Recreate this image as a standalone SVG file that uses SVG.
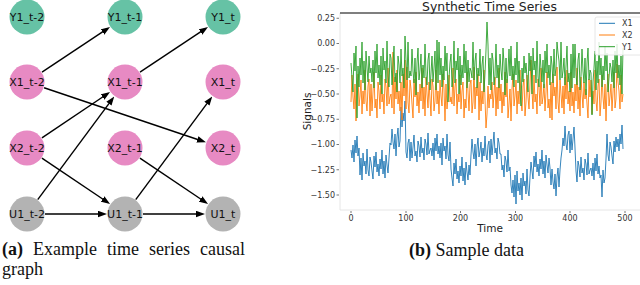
<svg xmlns="http://www.w3.org/2000/svg" width="640" height="285" viewBox="0 0 640 285">
<style>
.lbl{font-family:"DejaVu Sans",Verdana,sans-serif;font-size:11px;text-anchor:middle;fill:#111}
.y{fill:#66c2a5}.x{fill:#e78ac3}.u{fill:#b3b3b3}
.edge{stroke:#000;stroke-width:1.4;fill:none;marker-end:url(#arr)}
.tick{font-family:"DejaVu Sans",Verdana,sans-serif;font-size:8px;fill:#333}
.ax{font-family:"DejaVu Sans",Verdana,sans-serif;fill:#222}
.cap{font-family:"Liberation Serif","Times New Roman",serif;fill:#111}
.ser{fill:none;stroke-width:0.9;stroke-linejoin:round}
</style>
<defs>
<marker id="arr" markerUnits="userSpaceOnUse" markerWidth="9" markerHeight="7" refX="5" refY="3.25" orient="auto" viewBox="0 0 9 6.5">
<path d="M0,0 L9,3.25 L0,6.5 z" fill="#000"/>
</marker>
</defs>
<g id="connectors">
<path class="edge" d="M42,72.05 L106.67,29.16"/>
<path class="edge" d="M140,72.05 L204.67,29.16"/>
<path class="edge" d="M44.06,87.74 L202.15,140.98"/>
<path class="edge" d="M41.93,137.95 L106.75,94.28"/>
<path class="edge" d="M37.73,199.55 L111.89,99.66"/>
<path class="edge" d="M135.73,199.55 L209.89,99.66"/>
<path class="edge" d="M41.93,158.05 L106.75,201.72"/>
<path class="edge" d="M139.93,158.05 L204.75,201.72"/>
<path class="edge" d="M45,214 L103,214"/>
<path class="edge" d="M143,214 L201,214"/>
</g>
<g id="Y1_t-2"><circle class="y" cx="27" cy="17" r="17.5"/><text class="lbl" x="27" y="21">Y1_t-2</text></g>
<g id="Y1_t-1"><circle class="y" cx="125" cy="17" r="17.5"/><text class="lbl" x="125" y="21">Y1_t-1</text></g>
<g id="Y1_t"><circle class="y" cx="223" cy="17" r="17.5"/><text class="lbl" x="223" y="21">Y1_t</text></g>
<g id="X1_t-2"><circle class="x" cx="27" cy="82" r="17.5"/><text class="lbl" x="27" y="86">X1_t-2</text></g>
<g id="X1_t-1"><circle class="x" cx="125" cy="82" r="17.5"/><text class="lbl" x="125" y="86">X1_t-1</text></g>
<g id="X1_t"><circle class="x" cx="223" cy="82" r="17.5"/><text class="lbl" x="223" y="86">X1_t</text></g>
<g id="X2_t-2"><circle class="x" cx="27" cy="148" r="17.5"/><text class="lbl" x="27" y="152">X2_t-2</text></g>
<g id="X2_t-1"><circle class="x" cx="125" cy="148" r="17.5"/><text class="lbl" x="125" y="152">X2_t-1</text></g>
<g id="X2_t"><circle class="x" cx="223" cy="148" r="17.5"/><text class="lbl" x="223" y="152">X2_t</text></g>
<g id="U1_t-2"><circle class="u" cx="27" cy="214" r="17.5"/><text class="lbl" x="27" y="218">U1_t-2</text></g>
<g id="U1_t-1"><circle class="u" cx="125" cy="214" r="17.5"/><text class="lbl" x="125" y="218">U1_t-1</text></g>
<g id="U1_t"><circle class="u" cx="223" cy="214" r="17.5"/><text class="lbl" x="223" y="218">U1_t</text></g>
<text class="cap" x="2" y="255" font-size="18" style="word-spacing:5.5px"><tspan font-weight="bold">(a)</tspan> Example time series causal</text>
<text class="cap" x="2" y="275" font-size="18">graph</text>
<g id="plot">
<line x1="340" y1="13" x2="340" y2="210" stroke="#e6e6e6" stroke-width="1"/>
<line x1="340" y1="210" x2="640" y2="210" stroke="#e6e6e6" stroke-width="1"/>
<line x1="340" y1="13" x2="640" y2="13" stroke="#555" stroke-width="1.5"/>
<g stroke="#555" stroke-width="0.8">
<line x1="336.5" y1="18.25" x2="339" y2="18.25"/><line x1="336.5" y1="43.5" x2="339" y2="43.5"/><line x1="336.5" y1="68.75" x2="339" y2="68.75"/><line x1="336.5" y1="94" x2="339" y2="94"/><line x1="336.5" y1="119.25" x2="339" y2="119.25"/><line x1="336.5" y1="144.5" x2="339" y2="144.5"/><line x1="336.5" y1="169.75" x2="339" y2="169.75"/><line x1="336.5" y1="195" x2="339" y2="195"/>
<line x1="351" y1="211" x2="351" y2="213"/><line x1="406" y1="211" x2="406" y2="213"/><line x1="460.5" y1="211" x2="460.5" y2="213"/><line x1="515.5" y1="211" x2="515.5" y2="213"/><line x1="570" y1="211" x2="570" y2="213"/><line x1="625" y1="211" x2="625" y2="213"/>
</g>
<g class="tick" text-anchor="end">
<text x="335" y="21.2">0.25</text><text x="335" y="46.4">0.00</text><text x="335" y="71.6">−0.25</text><text x="335" y="96.9">−0.50</text><text x="335" y="122.1">−0.75</text><text x="335" y="147.4">−1.00</text><text x="335" y="172.6">−1.25</text><text x="335" y="197.9">−1.50</text>
</g>
<g class="tick" text-anchor="middle">
<text x="351" y="220.5">0</text><text x="406" y="220.5">100</text><text x="460.5" y="220.5">200</text><text x="515.5" y="220.5">300</text><text x="570" y="220.5">400</text><text x="625" y="220.5">500</text>
</g>
<text class="ax" x="490" y="232" font-size="10.5" text-anchor="middle">Time</text>
<text class="ax" font-size="10.5" text-anchor="middle" transform="translate(311,111.5) rotate(-90)">Signals</text>
<text class="ax" x="489.5" y="10.5" font-size="12.4" text-anchor="middle">Synthetic Time Series</text>
<polyline class="ser" stroke="#1f77b4" points="351,150 352,158 353,145 354,162 355,140 356,153 357,136 358,156 359,148 360,175 361,158 362,180 363,153 364,166 365,161 366,174 367,149 368,170 369,176 370,157 371,162 372,171 373,179 374,156 375,167 376,152 377,172 378,164 379,176 380,159 381,169 382,150 383,174 384,161 385,178 386,155 387,165 388,173 389,158 390,143 391,145 392,129 393,142 394,149 395,134 396,156 397,137 398,128 399,147 400,141 401,107 402,127 403,113 404,121 405,101 406,152 407,158 408,143 409,139 410,161 411,142 412,158 413,147 414,135 415,156 416,151 417,162 418,141 419,146 420,157 421,137 422,153 423,148 424,160 425,139 426,144 427,155 428,133 429,154 430,150 431,148 432,156 433,143 434,160 435,138 436,151 437,134 438,154 439,146 440,158 441,143 442,165 443,138 444,151 445,146 446,159 447,134 448,155 449,161 450,142 451,169 452,178 453,186 454,163 455,174 456,159 457,179 458,171 459,183 460,166 461,176 462,157 463,181 464,168 465,185 466,162 467,172 468,180 469,165 470,175 471,155 472,139 473,152 474,159 475,144 476,166 477,147 478,138 479,157 480,151 481,142 482,162 483,148 484,156 485,136 486,154 487,160 488,145 489,141 490,163 491,139 492,155 493,144 494,132 495,153 496,148 497,159 498,138 499,143 500,154 501,154 502,170 503,165 504,177 505,156 506,161 507,172 508,150 509,171 510,167 511,185 512,193 513,180 514,197 515,175 516,204 517,171 518,191 519,183 520,195 521,178 522,200 523,173 524,186 525,181 526,194 527,169 528,190 529,196 530,177 531,162 532,171 533,179 534,156 535,167 536,152 537,172 538,164 539,176 540,159 541,169 542,150 543,174 544,161 545,178 546,155 547,165 548,173 549,158 550,168 551,185 552,169 553,182 554,189 555,174 556,196 557,177 558,168 559,187 560,170 561,158 562,150 563,138 564,146 565,126 566,144 567,150 568,135 569,131 570,153 571,134 572,150 573,139 574,127 575,148 576,171 577,182 578,161 579,166 580,177 581,157 582,173 583,168 584,180 585,159 586,164 587,175 588,153 589,174 590,170 591,168 592,176 593,163 594,180 595,158 596,171 597,154 598,174 599,166 600,178 601,175 602,197 603,170 604,183 605,178 606,159 607,134 608,155 609,161 610,142 611,147 612,156 613,164 614,141 615,152 616,137 617,147 618,139 619,151 620,134 621,144 622,125 623,149"/>
<polyline class="ser" stroke="#ff7f0e" points="351,102 352,75 353,97 354,109 355,84 356,121 357,89 358,74 359,106 360,96 361,80 362,114 363,91 364,104 365,70 366,101 367,111 368,86 369,79 370,116 371,84 372,111 373,92 374,72 375,108 376,99 377,118 378,82 379,91 380,109 381,75 382,102 383,94 384,114 385,79 386,87 387,106 388,68 389,104 390,97 391,94 392,108 393,52 394,114 395,77 396,99 397,70 398,104 399,91 400,111 401,82 402,120 403,74 404,96 405,60 406,109 407,67 408,102 409,113 410,80 411,89 412,104 413,118 414,79 415,97 416,72 417,106 418,92 419,113 420,84 421,101 422,68 423,109 424,87 425,116 426,77 427,94 428,108 429,82 430,99 431,116 432,79 433,86 434,111 435,101 436,70 437,104 438,91 439,114 440,80 441,96 442,106 443,74 444,89 445,121 446,84 447,109 448,97 449,75 450,102 451,97 452,104 453,68 454,106 455,87 456,79 457,114 458,94 459,102 460,75 461,109 462,91 463,82 464,118 465,99 466,108 467,72 468,92 469,111 470,84 471,80 472,113 473,102 474,67 475,109 476,87 477,96 478,74 479,120 480,82 481,111 482,91 483,104 484,70 485,99 486,128 487,114 488,86 489,108 490,94 491,99 492,82 493,108 494,94 495,77 496,116 497,87 498,109 499,68 500,101 501,84 502,113 503,92 504,106 505,72 506,97 507,79 508,118 509,104 510,89 511,121 512,89 513,74 514,106 515,96 516,80 517,114 518,91 519,104 520,70 521,101 522,111 523,86 524,79 525,116 526,102 527,75 528,97 529,109 530,84 531,60 532,91 533,109 534,75 535,102 536,94 537,114 538,79 539,87 540,106 541,68 542,104 543,97 544,84 545,111 546,92 547,72 548,108 549,99 550,118 551,82 552,120 553,74 554,96 555,87 556,109 557,67 558,102 559,113 560,80 561,94 562,108 563,86 564,114 565,77 566,99 567,70 568,104 569,91 570,111 571,72 572,106 573,92 574,113 575,84 576,101 577,68 578,109 579,87 580,116 581,77 582,94 583,108 584,82 585,99 586,89 587,104 588,118 589,79 590,97 591,80 592,114 593,91 594,104 595,70 596,101 597,111 598,86 599,79 600,116 601,102 602,75 603,97 604,109 605,84 606,121 607,89 608,74 609,106 610,96 611,84 612,111 613,92 614,72 615,108 616,99 617,64 618,82 619,91 620,109 621,75 622,102 623,94"/>
<polyline class="ser" stroke="#2ca02c" points="351,63 352,78 353,92 354,53 355,71 356,46 357,118 358,66 359,87 360,58 361,75 362,42 363,83 364,61 365,90 366,51 367,68 368,82 369,56 370,73 371,68 372,82 373,60 374,88 375,51 376,73 377,44 378,78 379,65 380,85 381,56 382,94 383,48 384,70 385,61 386,83 387,41 388,76 389,87 390,54 391,58 392,85 393,66 394,46 395,82 396,73 397,92 398,56 399,65 400,83 401,49 402,76 403,68 404,88 405,36 406,61 407,80 408,42 409,78 410,71 411,76 412,49 413,71 414,83 415,58 416,95 417,63 418,48 419,80 420,70 421,54 422,88 423,65 424,78 425,44 426,75 427,85 428,60 429,53 430,90 431,73 432,56 433,82 434,68 435,51 436,90 437,40 438,83 439,42 440,75 441,58 442,87 443,66 444,80 445,46 446,71 447,53 448,102 449,78 450,63 451,54 452,87 453,76 454,41 455,83 456,61 457,70 458,48 459,94 460,56 461,85 462,65 463,78 464,44 465,73 466,51 467,88 468,60 469,82 470,68 471,71 472,78 473,42 474,80 475,61 476,53 477,88 478,68 479,76 480,49 481,83 482,65 483,56 484,92 485,73 486,50 487,22 488,45 489,85 490,58 491,90 492,53 493,60 494,85 495,75 496,44 497,78 498,65 499,88 500,54 501,70 502,80 503,48 504,63 505,95 506,58 507,83 508,71 509,49 510,76 511,46 512,80 513,66 514,87 515,58 516,75 517,42 518,83 519,61 520,90 521,106 522,68 523,82 524,56 525,73 526,63 527,78 528,92 529,53 530,71 531,56 532,94 533,48 534,70 535,61 536,83 537,41 538,76 539,87 540,54 541,68 542,82 543,60 544,88 545,51 546,73 547,44 548,78 549,65 550,85 551,56 552,65 553,83 554,49 555,76 556,68 557,42 558,53 559,61 560,80 561,42 562,78 563,71 564,58 565,85 566,66 567,46 568,82 569,73 570,92 571,54 572,88 573,44 574,78 575,44 576,75 577,85 578,60 579,53 580,90 581,76 582,49 583,71 584,83 585,58 586,95 587,63 588,48 589,80 590,70 591,73 592,115 593,82 594,68 595,51 596,90 597,61 598,83 599,42 600,75 601,58 602,87 603,66 604,80 605,46 606,71 607,53 608,92 609,78 610,63 611,68 612,82 613,60 614,88 615,51 616,73 617,44 618,78 619,65 620,85 621,56 622,94 623,48"/>
<g id="legend">
<rect x="595" y="17" width="50" height="38" rx="2" fill="#fff" fill-opacity="0.85" stroke="#e0e0e0" stroke-width="0.8"/>
<line x1="599" y1="23.3" x2="615" y2="23.3" stroke="#1f77b4" stroke-width="1"/>
<line x1="599" y1="35" x2="615" y2="35" stroke="#ff7f0e" stroke-width="1"/>
<line x1="599" y1="46.7" x2="615" y2="46.7" stroke="#2ca02c" stroke-width="1"/>
<text class="tick" x="622" y="26.2">X1</text>
<text class="tick" x="622" y="37.9">X2</text>
<text class="tick" x="622" y="49.6">Y1</text>
</g>
</g>
<text class="cap" x="409" y="256" font-size="18"><tspan font-weight="bold">(b)</tspan> Sample data</text>
</svg>
